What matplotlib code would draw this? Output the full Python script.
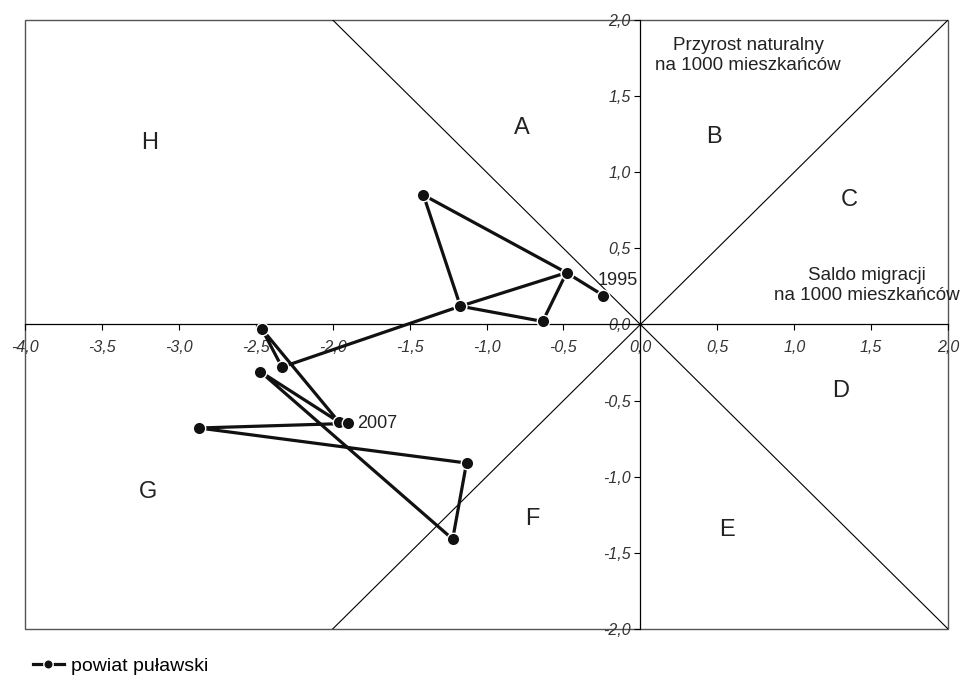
import matplotlib.pyplot as plt
from matplotlib.patches import Rectangle
from matplotlib.ticker import FuncFormatter

plt.rcParams['font.family'] = ['Liberation Sans', 'DejaVu Sans']

# saldo migracji (x) and przyrost naturalny (y), per 1000 inhabitants
saldo = [-0.24, -0.48, -1.41, -1.17, -0.48, -0.635, -1.17,
         -2.33, -2.46, -1.96, -2.47, -1.22, -1.13, -2.87, -1.90]
przyrost = [0.19, 0.34, 0.85, 0.12, 0.34, 0.02, 0.12,
            -0.28, -0.03, -0.64, -0.31, -1.41, -0.91, -0.68, -0.65]
first_year, last_year = '1995', '2007'

regions = ['A', 'B', 'C', 'D', 'E', 'F', 'G', 'H']
region_x = [-0.77, 0.48, 1.36, 1.30, 0.56, -0.70, -3.20, -3.19]
region_y = [1.29, 1.23, 0.82, -0.44, -1.35, -1.28, -1.10, 1.19]

fig = plt.figure(figsize=(9.62, 6.88), dpi=100)
ax = fig.add_axes([0.026, 0.0858, 0.9595, 0.8852])

ax.set_xlim(-4, 2)
ax.set_ylim(-2, 2)

# axes crossing at the origin
for s in ['top', 'right']:
    ax.spines[s].set_visible(False)
ax.spines['left'].set_position(('data', 0))
ax.spines['bottom'].set_position(('data', 0))
ax.spines['left'].set_linewidth(0.9)
ax.spines['bottom'].set_linewidth(0.9)
ax.add_patch(Rectangle((0, 0), 1, 1, transform=ax.transAxes, fill=False,
                       edgecolor='#555555', linewidth=1.0, clip_on=False))

# diagonals splitting the plane into sectors
ax.plot([-2, 2], [2, -2], color='black', linewidth=0.8)
ax.plot([-2, 2], [-2, 2], color='black', linewidth=0.8)

ax.set_xticks([-4, -3.5, -3, -2.5, -2, -1.5, -1, -0.5, 0, 0.5, 1, 1.5, 2])
ax.set_yticks([-2, -1.5, -1, -0.5, 0, 0.5, 1, 1.5, 2])
fmt = FuncFormatter(lambda v, p: f'{v:.1f}'.replace('.', ','))
ax.xaxis.set_major_formatter(fmt)
ax.yaxis.set_major_formatter(fmt)
ax.tick_params(direction='out', length=4, width=0.8, labelsize=11.5)
ax.tick_params(axis='x', pad=7)
ax.tick_params(axis='y', pad=3)
for lab in ax.get_xticklabels() + ax.get_yticklabels():
    lab.set_fontstyle('italic')
    lab.set_color('#333333')

line, = ax.plot(saldo, przyrost, color='#111111', linewidth=2.3,
                marker='o', markersize=9, markeredgecolor='white',
                markeredgewidth=1.0, label='powiat puławski', zorder=5)

ax.text(saldo[0] - 0.04, przyrost[0] + 0.1, first_year, fontsize=13,
        ha='left', va='center', color='#222222')
ax.text(saldo[-1] + 0.06, przyrost[-1], last_year, fontsize=13,
        ha='left', va='center', color='#222222')

for r, x, y in zip(regions, region_x, region_y):
    ax.text(x, y, r, fontsize=17, ha='center', va='center', color='#222222')

ax.text(0.70, 1.765, 'Przyrost naturalny\nna 1000 mieszkańców', fontsize=13.5,
        ha='center', va='center', color='#222222', linespacing=1.2)
ax.text(1.47, 0.255, 'Saldo migracji\nna 1000 mieszkańców', fontsize=13.5,
        ha='center', va='center', color='#222222', linespacing=1.2)

fig.legend(handles=[line], loc='lower left', bbox_to_anchor=(0.016, -0.006),
           frameon=False, fontsize=14, handlelength=1.6, handletextpad=0.35,
           markerscale=0.75)

fig.savefig('out.png', dpi=100)
